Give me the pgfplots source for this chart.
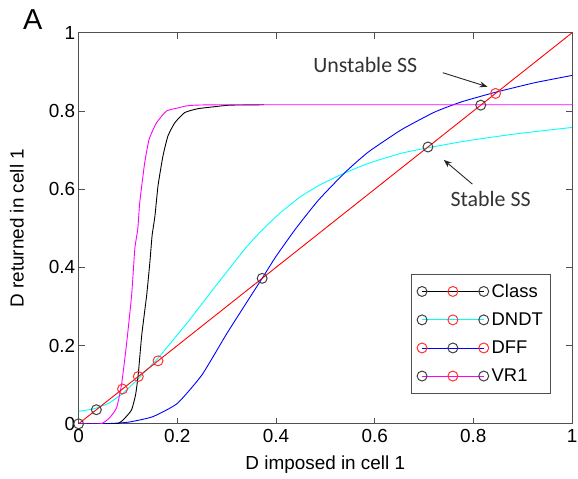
\documentclass[border=0pt]{standalone}
\usepackage{fontspec}
\setmainfont{Liberation Sans}
\newfontfamily\calibri{Carlito}
\usepackage{pgfplots}
\pgfplotsset{compat=1.18}
\usetikzlibrary{arrows.meta}
\definecolor{mgray}{RGB}{64,64,64}
\definecolor{cred}{RGB}{255,50,50}
\definecolor{framegray}{RGB}{80,80,80}
\definecolor{lcyan}{RGB}{0,255,255}
\definecolor{lmag}{RGB}{255,0,255}
\definecolor{lblue}{RGB}{0,0,255}
\definecolor{lred}{RGB}{255,0,0}
\begin{document}
\begin{tikzpicture}
\path[use as bounding box] (-79pt,-55pt) rectangle (502pt,426pt);
\begin{axis}[
  scale only axis, width=496pt, height=393pt,
  xmin=0, xmax=1, ymin=0, ymax=1,
  xtick={0,0.2,0.4,0.6,0.8,1}, ytick={0,0.2,0.4,0.6,0.8,1},
  tick align=inside, major tick length=6pt,
  axis line style={framegray, line width=0.9pt},
  every tick/.style={framegray, line width=0.9pt},
  /pgf/number format/assume math mode=true,
  tick label style={font=\fontsize{19}{22}\selectfont},
  xticklabel style={yshift=-2pt},
  label style={font=\fontsize{19}{22}\selectfont},
  xlabel={D imposed in cell 1},
  ylabel={D returned in cell 1},
  xlabel style={at={(axis description cs:0.5,-0.104)}, anchor=center},
  ylabel style={at={(axis description cs:-0.125,0.5)}, anchor=center},
  clip mode=individual,
  legend style={at={(0.674,0.384)}, anchor=north west, draw=framegray, line width=0.9pt,
    inner xsep=5pt, inner ysep=8pt, row sep=10pt,
    font=\fontsize{18.5}{22}\selectfont,
    nodes={inner xsep=2.5pt, inner ysep=2pt}},
  legend cell align=left,
]
% DNDT (cyan)
\addplot[lcyan, line width=0.9pt, smooth, tension=0.3, forget plot] coordinates {
(0,0.032) (0.03,0.038) (0.06,0.052) (0.09,0.078) (0.115,0.108) (0.14,0.140)
(0.161,0.168) (0.19,0.212) (0.22,0.258) (0.25,0.307) (0.28,0.356) (0.31,0.404)
(0.34,0.452) (0.373,0.497) (0.41,0.541) (0.45,0.581) (0.486,0.609) (0.533,0.638)
(0.587,0.666) (0.654,0.692) (0.708,0.706) (0.788,0.724) (0.889,0.742) (1.0,0.758)};
% DFF (blue)
\addplot[lblue, line width=0.9pt, smooth, tension=0.3, forget plot] coordinates {
(0,0) (0.05,0) (0.1,0.004) (0.15,0.018) (0.2,0.052) (0.25,0.125) (0.3,0.230)
(0.35,0.329) (0.372,0.372) (0.4,0.428) (0.44,0.499) (0.486,0.572) (0.54,0.643)
(0.587,0.695) (0.654,0.752) (0.721,0.797) (0.775,0.823) (0.842,0.847)
(0.923,0.872) (1.0,0.891)};
% Class (black)
\addplot[black, line width=0.9pt, smooth, tension=0.3, forget plot] coordinates {
(0,0) (0.077,0) (0.094,0.015) (0.1075,0.036) (0.1156,0.075) (0.121,0.128)
(0.128,0.227) (0.138,0.329) (0.1445,0.414) (0.149,0.482) (0.1546,0.53)
(0.161,0.609) (0.171,0.685) (0.181,0.736) (0.195,0.770) (0.215,0.796)
(0.242,0.806) (0.2755,0.811) (0.306,0.815) (0.376,0.816)};
% VR1 (magenta)
\addplot[lmag, line width=0.9pt, smooth, tension=0.3, forget plot] coordinates {
(0,0) (0.045,0) (0.0625,0.015) (0.077,0.041) (0.087,0.100) (0.097,0.202)
(0.1075,0.329) (0.114,0.448) (0.120,0.499) (0.124,0.567) (0.134,0.668)
(0.143,0.728) (0.158,0.770) (0.178,0.800) (0.2016,0.808) (0.225,0.814)
(0.3,0.816) (1.0,0.816)};
% identity (red)
\addplot[lred, line width=0.9pt, forget plot] coordinates {(0,0) (1,1)};
% fixed points
\addplot[only marks, mark=o, mark size=5pt, mark options={cred, line width=1pt}, forget plot]
 coordinates {(0.089,0.089) (0.121,0.121) (0.161,0.161) (0.845,0.845)};
\addplot[only marks, mark=o, mark size=5pt, mark options={mgray, line width=1pt}, forget plot]
 coordinates {(0,0) (0.036,0.036) (0.372,0.372) (0.708,0.708) (0.815,0.815)};
% legend
\addlegendimage{legend image code/.code={
  \draw[black, line width=0.9pt] (0pt,0pt) -- (62pt,0pt);
  \draw[mgray, line width=1pt] (0pt,0pt) circle[radius=5pt] (62pt,0pt) circle[radius=5pt];
  \draw[cred, line width=1pt] (31pt,0pt) circle[radius=5pt];}}
\addlegendentry{Class}
\addlegendimage{legend image code/.code={
  \draw[lcyan, line width=0.9pt] (0pt,0pt) -- (62pt,0pt);
  \draw[mgray, line width=1pt] (0pt,0pt) circle[radius=5pt] (62pt,0pt) circle[radius=5pt];
  \draw[cred, line width=1pt] (31pt,0pt) circle[radius=5pt];}}
\addlegendentry{DNDT}
\addlegendimage{legend image code/.code={
  \draw[lblue, line width=0.9pt] (0pt,0pt) -- (62pt,0pt);
  \draw[cred, line width=1pt] (0pt,0pt) circle[radius=5pt] (62pt,0pt) circle[radius=5pt];
  \draw[mgray, line width=1pt] (31pt,0pt) circle[radius=5pt];}}
\addlegendentry{DFF}
\addlegendimage{legend image code/.code={
  \draw[lmag, line width=0.9pt] (0pt,0pt) -- (62pt,0pt);
  \draw[mgray, line width=1pt] (0pt,0pt) circle[radius=5pt] (62pt,0pt) circle[radius=5pt];
  \draw[cred, line width=1pt] (31pt,0pt) circle[radius=5pt];}}
\addlegendentry{VR1}
% annotations
\node[font=\calibri\fontsize{22}{26}\selectfont, text=black!80] at (axis cs:0.581,0.918) {Unstable SS};
\draw[-{Stealth[length=8pt,width=6pt]}, black!85, line width=0.9pt] (axis cs:0.738,0.898) -- (axis cs:0.8286,0.862);
\node[font=\calibri\fontsize{22}{26}\selectfont, text=black!80] at (axis cs:0.835,0.575) {Stable SS};
\draw[-{Stealth[length=8pt,width=6pt]}, black!85, line width=0.9pt] (axis cs:0.798,0.613) -- (axis cs:0.740,0.675);
\end{axis}
\node[font=\fontsize{29}{32}\selectfont] at (-46pt,406pt) {A};
\end{tikzpicture}
\end{document}
